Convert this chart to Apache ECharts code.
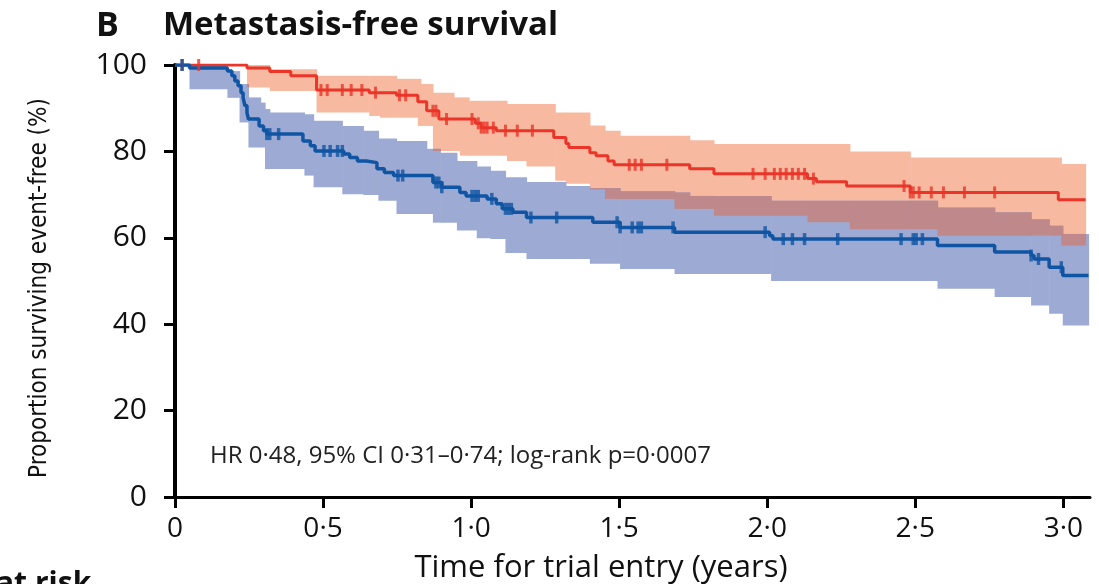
<!DOCTYPE html>
<html>
  <head>
    <title></title>
    <meta charset="UTF-8" />
    <script src="https://cdn.jsdelivr.net/npm/echarts@6/dist/echarts.min.js"></script>
    <style>
      body { margin: 0; background: #fff; }
    </style>
  </head>
  <body>
    <div id="main"></div>
    <script>
      const width = 1099;
      const height = 584;
      const main = document.getElementById('main');
      main.style.width = `${width}px`;
      main.style.height = `${height}px`;

      // Kaplan-Meier step curves (time in years, % event-free)
      const redTimes = [0, 0.243, 0.32, 0.391, 0.478, 0.656, 0.748, 0.82, 0.85, 0.891, 1.014, 1.034, 1.085, 1.279, 1.32, 1.33, 1.401, 1.422, 1.462, 1.483, 1.738, 1.82, 2.136, 2.166, 2.268, 2.483, 2.983, 3.075];
      const redSurv = [100, 99.3, 98.5, 97.5, 94.2, 93.6, 93, 91.5, 89.4, 87.5, 86.5, 85.5, 84.8, 83.2, 81.8, 80.9, 79.7, 79, 77.8, 76.9, 76, 74.8, 73.7, 73, 72, 70.5, 68.8, 68.8];

      const blueTimes = [0, 0.049, 0.177, 0.192, 0.202, 0.213, 0.223, 0.23, 0.236, 0.243, 0.248, 0.284, 0.299, 0.31, 0.432, 0.457, 0.473, 0.57, 0.59, 0.616, 0.646, 0.682, 0.707, 0.738, 0.871, 0.901, 0.962, 0.983, 1.054, 1.085, 1.105, 1.141, 1.187, 1.411, 1.503, 1.687, 2.008, 2.019, 2.575, 2.768, 2.891, 2.901, 2.952, 2.998, 3.085];
      const blueSurv = [100, 99.3, 98.6, 97.5, 96.3, 95.2, 93.6, 92.4, 90.6, 89, 87.5, 85.9, 84.8, 84, 82.4, 81.3, 80.1, 79.4, 78.6, 77.8, 77.4, 76, 75.1, 74.4, 72.8, 71.7, 70.5, 69.7, 69, 67.9, 66.7, 65.9, 64.7, 63.6, 62.4, 61.3, 60.5, 59.7, 58.2, 56.7, 55.9, 55.1, 53.2, 51.3, 51.3];

      // censored observations
      const redCensor = [0.024, 0.08, 0.493, 0.514, 0.565, 0.595, 0.631, 0.677, 0.758, 0.779, 0.871, 0.881, 0.917, 1.003, 1.024, 1.034, 1.044, 1.054, 1.075, 1.116, 1.156, 1.207, 1.534, 1.554, 1.575, 1.661, 1.952, 1.993, 2.024, 2.044, 2.064, 2.085, 2.105, 2.126, 2.156, 2.462, 2.483, 2.493, 2.513, 2.554, 2.595, 2.666, 2.768];
      const blueCensor = [0.024, 0.31, 0.32, 0.35, 0.503, 0.524, 0.549, 0.565, 0.753, 0.769, 0.881, 0.891, 0.901, 1.003, 1.014, 1.024, 1.07, 1.116, 1.126, 1.136, 1.202, 1.289, 1.493, 1.503, 1.544, 1.564, 1.575, 1.682, 1.993, 2.054, 2.085, 2.126, 2.238, 2.452, 2.493, 2.503, 2.524, 2.891, 2.916, 2.993];

      // 95% CI bands (step start times, lower, upper)
      const redCiTimes = [0.243, 0.32, 0.478, 0.656, 0.692, 0.748, 0.82, 0.83, 0.871, 0.942, 0.962, 0.993, 1.121, 1.187, 1.284, 1.32, 1.401, 1.452, 1.503, 1.687, 1.738, 1.82, 2.136, 2.279, 2.483, 2.575, 2.993, 3.075];
      const redCiLow = [94.8, 94, 89, 88.2, 87.8, 87.8, 85.9, 85.9, 80.1, 80.1, 79, 79, 77.8, 76.5, 73.2, 72.5, 71.2, 69, 69, 66.7, 66.7, 65.1, 63.6, 62, 62, 60.5, 58.2, 58.2];
      const redCiHigh = [100, 99, 97.5, 97.5, 97.5, 96.8, 96.8, 95.6, 93.6, 92.5, 92.5, 91.7, 91, 91, 89, 89, 86, 84.8, 83.6, 83.6, 82.6, 81.7, 81.7, 80, 78.6, 78.6, 77.1, 77.1];

      const blueCiTimes = [0.049, 0.177, 0.218, 0.248, 0.289, 0.304, 0.32, 0.437, 0.468, 0.565, 0.636, 0.687, 0.748, 0.85, 0.871, 0.896, 0.952, 1.019, 1.065, 1.116, 1.187, 1.32, 1.401, 1.503, 1.687, 1.738, 2.013, 2.575, 2.768, 2.891, 2.952, 2.998, 3.085];
      const blueCiLow = [94.4, 92.4, 86.7, 80.9, 80.9, 75.9, 75.9, 74.4, 71.7, 70.1, 69.9, 68.6, 65.5, 65.5, 63.5, 63.5, 61.7, 59.9, 59.7, 56.5, 55.1, 55.1, 54, 52.8, 51.6, 51.6, 50, 48.2, 46.3, 44.3, 42.4, 39.7, 39.7];
      const blueCiHigh = [100, 98.6, 95.6, 92.5, 91.3, 89.8, 89, 88.6, 87.1, 85.9, 84.8, 83, 82.4, 80.6, 80.6, 79.7, 77.8, 76.5, 75.5, 74, 72.9, 72, 71.5, 70.8, 70.5, 69.7, 68.6, 67, 65.9, 64.3, 62.8, 60.9, 60.9];

      const xTicks = [0, 0.5, 1, 1.5, 2, 2.5, 3];

      function stepAt(times, vals, t) {
        let v = null;
        for (let i = 0; i < times.length; i++) {
          if (times[i] <= t) v = vals[i];
        }
        if (t > times[times.length - 1]) return null;
        return v;
      }

      function bandItems(times, lo, hi) {
        const items = [];
        for (let i = 0; i < times.length - 1; i++) {
          items.push([times[i], times[i + 1], lo[i], hi[i]]);
        }
        return items;
      }

      // overlap of the two CI bands
      function overlapItems() {
        const grid = Array.from(new Set(redCiTimes.concat(blueCiTimes))).sort((a, b) => a - b);
        const items = [];
        for (let i = 0; i < grid.length - 1; i++) {
          const t = grid[i];
          if (t >= redCiTimes[redCiTimes.length - 1] || t >= blueCiTimes[blueCiTimes.length - 1]) continue;
          const rl = stepAt(redCiTimes, redCiLow, t), rh = stepAt(redCiTimes, redCiHigh, t);
          const bl = stepAt(blueCiTimes, blueCiLow, t), bh = stepAt(blueCiTimes, blueCiHigh, t);
          if (rl == null || bl == null) continue;
          const lo = Math.max(rl, bl), hi = Math.min(rh, bh);
          if (hi > lo) items.push([t, grid[i + 1], lo, hi]);
        }
        return items;
      }

      function bandSeries(data, color, z) {
        return {
          type: 'custom',
          z: z,
          silent: true,
          renderItem: function (params, api) {
            const p0 = api.coord([api.value(0), api.value(3)]);
            const p1 = api.coord([api.value(1), api.value(2)]);
            return {
              type: 'rect',
              shape: { x: p0[0], y: p0[1], width: p1[0] - p0[0] + 0.6, height: p1[1] - p0[1] },
              style: { fill: color }
            };
          },
          encode: { x: [0, 1], y: [2, 3] },
          data: data
        };
      }

      const fmtX = v => (v === 0 ? '0' : v.toFixed(1).replace('.', '·'));
      const font = '"Open Sans", "DejaVu Sans", sans-serif';

      const myChart = echarts.init(main);
      const option = {
        animation: false,
        backgroundColor: '#fff',
        grid: { left: 175, right: 9, top: 65, bottom: 87, containLabel: false, outerBoundsMode: 'none' },
        xAxis: {
          type: 'value',
          min: 0,
          max: 3.09,
          interval: 0.5,
          axisLine: { lineStyle: { color: '#000', width: 3 } },
          axisTick: { length: 11, lineStyle: { color: '#000', width: 3 }, customValues: xTicks },
          axisLabel: { fontFamily: font, fontSize: 28, color: '#111', margin: 18, formatter: fmtX, customValues: xTicks },
          splitLine: { show: false }
        },
        yAxis: {
          type: 'value',
          min: 0,
          max: 100,
          interval: 20,
          axisLine: { lineStyle: { color: '#000', width: 4 } },
          axisTick: { length: 11, lineStyle: { color: '#000', width: 3 } },
          axisLabel: { fontFamily: font, fontSize: 30, color: '#111', margin: 28 },
          splitLine: { show: false }
        },
        graphic: [
          { type: 'text', left: 96, top: 9, style: { text: 'B', font: 'bold 34px ' + font, fill: '#111' } },
          { type: 'text', left: 163, top: 9, style: { text: 'Metastasis-free survival', font: 'bold 33px ' + font, fill: '#111' } },
          {
            type: 'text', x: 40, y: 288, rotation: Math.PI / 2,
            style: { text: 'Proportion surviving event-free (%)', font: '24px "DejaVu Sans Condensed", "Liberation Sans Narrow", Roboto, sans-serif', fill: '#111', textAlign: 'center', textVerticalAlign: 'middle' }
          },
          { type: 'text', x: 210, y: 456, style: { text: 'HR 0·48, 95% CI 0·31–0·74; log-rank p=0·0007', font: '24px ' + font, fill: '#222', textVerticalAlign: 'middle' } },
          { type: 'text', x: 601, y: 568, style: { text: 'Time for trial entry (years)', font: '31px ' + font, fill: '#111', textAlign: 'center', textVerticalAlign: 'middle' } },
          { type: 'text', left: -4, top: 569, style: { text: 'at risk', font: 'bold 30px ' + font, fill: '#111' } }
        ],
        series: [
          bandSeries(bandItems(redCiTimes, redCiLow, redCiHigh), '#F7B9A0', 1),
          bandSeries(bandItems(blueCiTimes, blueCiLow, blueCiHigh), '#9DABD4', 2),
          bandSeries(overlapItems(), '#BF888A', 3),
          {
            type: 'line',
            step: 'end',
            z: 5,
            symbol: 'none',
            lineStyle: { color: '#EA3528', width: 3 },
            data: redTimes.map((t, i) => [t, redSurv[i]])
          },
          {
            type: 'line',
            step: 'end',
            z: 6,
            symbol: 'none',
            lineStyle: { color: '#0F55A3', width: 3.5 },
            data: blueTimes.map((t, i) => [t, blueSurv[i]])
          },
          {
            type: 'scatter',
            z: 7,
            symbol: 'rect',
            symbolSize: [3, 12],
            itemStyle: { color: '#EA3528' },
            data: redCensor.map(t => [t, stepAt(redTimes, redSurv, t)])
          },
          {
            type: 'scatter',
            z: 8,
            symbol: 'rect',
            symbolSize: [3.5, 12],
            itemStyle: { color: '#0F55A3' },
            data: blueCensor.map(t => [t, stepAt(blueTimes, blueSurv, t)])
          }
        ]
      };
      myChart.setOption(option);
    </script>
  </body>
</html>
